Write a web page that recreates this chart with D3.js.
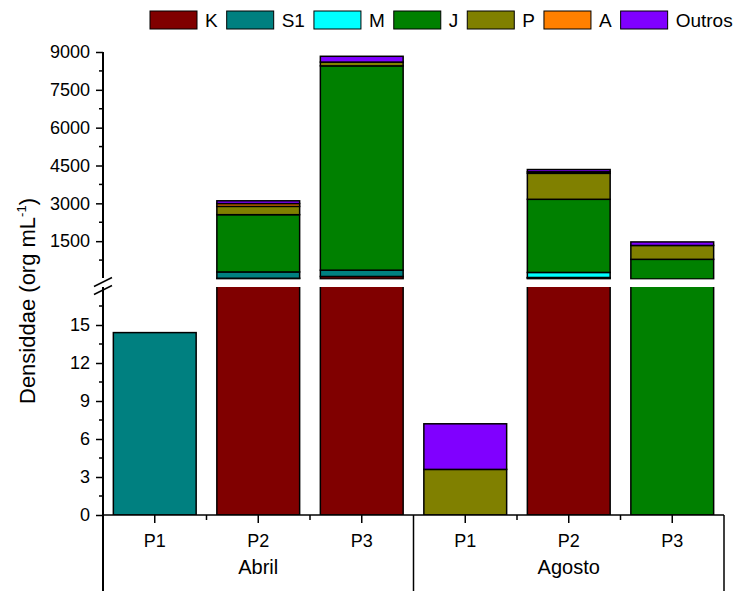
<!DOCTYPE html>
<html><head><meta charset="utf-8">
<script src="https://cdn.jsdelivr.net/npm/d3@7"></script>
<style>body{margin:0;background:#fff}</style>
</head><body><svg id="c" width="734" height="591" font-family="Liberation Sans, Arial, sans-serif"></svg>
<script>
const categories = ["P1","P2","P3","P1","P2","P3"];
const groups = ["Abril","Agosto"];
const seriesNames = ["K","S1","M","J","P","A","Outros"];
const colors = ["#800000","#008080","#00FFFF","#008000","#808000","#FF8000","#8000FF"];
const K      = [0,    30,   100,  0,   40,   0];
const S1     = [14.4, 250,  250,  0,   20,   0];
const M      = [0,    0,    0,    0,   200,  0];
const J      = [0,    2270, 8100, 0,   2900, 780];
const P      = [0,    330,  150,  3.6, 1030, 550];
const A      = [0,    110,  0,    0,   60,   0];
const Outros = [0,    110,  230,  3.6, 90,   140];
const upperTicks = [1500,3000,4500,6000,7500,9000];
const lowerTicks = [0,3,6,9,12,15];
const seriesVals = [K,S1,M,J,P,A,Outros];

const FONT = "Liberation Sans, Arial, sans-serif";
const svg = d3.select("#c");
const x0 = 103, x1 = 724;
const idx = d3.range(categories.length);
const x = d3.scaleBand().domain(idx).range([x0,x1]).paddingInner(0.2).paddingOuter(0.1);
const yU = d3.scaleLinear().domain([0,9000]).range([279,52]);
const yL = d3.scaleLinear().domain([0,18]).range([515,287]);
const breakVal = 18;

const table = idx.map(i => { const o = {i}; seriesNames.forEach((s,k)=> o[s]=seriesVals[k][i]); return o; });
const stacked = d3.stack().keys(seriesNames)(table);

function drawPanel(y, clipId, top, bottom, upper){
  svg.append("clipPath").attr("id",clipId).append("rect")
    .attr("x",x0).attr("y",top).attr("width",x1-x0).attr("height",bottom-top);
  const g = svg.append("g").attr("clip-path",`url(#${clipId})`);
  stacked.forEach((layer,k)=>{
    const segs = layer.filter(d=>d[1]-d[0]>0 && (upper ? d[1]>breakVal : d[0]<breakVal));
    g.selectAll(null).data(segs).enter().append("rect")
      .attr("x",d=>x(d.data.i)).attr("width",x.bandwidth())
      .attr("y",d=>y(d[1])).attr("height",d=>y(d[0])-y(d[1]))
      .attr("fill",colors[k]).attr("stroke","#000").attr("stroke-width",1.5);
  });
}
drawPanel(yU,"cu",40,279.5,true);
drawPanel(yL,"cl",287,515,false);

// Y axes
const fmt = d3.format("d");
const axU = d3.axisLeft(yU).tickValues(upperTicks).tickFormat(fmt).tickSize(7).tickPadding(6);
const gU = svg.append("g").attr("transform",`translate(${x0},0)`).call(axU);
const axL = d3.axisLeft(yL).tickValues(lowerTicks).tickFormat(fmt).tickSize(7).tickPadding(6);
const gL = svg.append("g").attr("transform",`translate(${x0},0)`).call(axL);
[gU,gL].forEach(g=>{
  g.attr("font-family",FONT).attr("font-size",18);
  g.select(".domain").remove();
  g.selectAll("line").attr("stroke","#000").attr("stroke-width",1.5);
  g.selectAll("text").attr("fill","#000");
});
// minor ticks
const minU = d3.range(750,9000,1500), minL = d3.range(1.5,18,3);
svg.selectAll(null).data(minU).enter().append("line")
  .attr("x1",x0-4).attr("x2",x0).attr("y1",d=>yU(d)).attr("y2",d=>yU(d)).attr("stroke","#000").attr("stroke-width",1.5);
svg.selectAll(null).data(minL).enter().append("line")
  .attr("x1",x0-4).attr("x2",x0).attr("y1",d=>yL(d)).attr("y2",d=>yL(d)).attr("stroke","#000").attr("stroke-width",1.5);
// axis lines
svg.append("line").attr("x1",x0).attr("x2",x0).attr("y1",yU(9000)).attr("y2",278).attr("stroke","#000").attr("stroke-width",2);
svg.append("line").attr("x1",x0).attr("x2",x0).attr("y1",287).attr("y2",591).attr("stroke","#000").attr("stroke-width",2);
// break marks
[282,290].forEach(cy=>{
  svg.append("line").attr("x1",x0-9).attr("y1",cy+4.5).attr("x2",x0+9).attr("y2",cy-4.5)
    .attr("stroke","#000").attr("stroke-width",1.5);
});

// X axis
svg.append("line").attr("x1",x0).attr("x2",x1).attr("y1",515).attr("y2",515).attr("stroke","#000").attr("stroke-width",1.5);
svg.selectAll(null).data(idx).enter().append("line")
  .attr("x1",i=>x(i)+x.bandwidth()/2).attr("x2",i=>x(i)+x.bandwidth()/2)
  .attr("y1",515).attr("y2",523).attr("stroke","#000").attr("stroke-width",1.5);
svg.selectAll(null).data(d3.range(1,categories.length)).enter().filter(i=>i!==3).append("line")
  .attr("x1",i=>x(i)-x.step()*x.paddingInner()/2).attr("x2",i=>x(i)-x.step()*x.paddingInner()/2)
  .attr("y1",515).attr("y2",520).attr("stroke","#000").attr("stroke-width",1.5);
svg.selectAll(null).data(idx).enter().append("text")
  .attr("x",i=>x(i)+x.bandwidth()/2).attr("y",547).attr("text-anchor","middle")
  .attr("font-size",18).text(i=>categories[i]);
// group separators
const sepX = [x0, (x(2)+x.bandwidth()+x(3))/2, x1];
sepX.slice(1).forEach(sx=>{
  svg.append("line").attr("x1",sx).attr("x2",sx).attr("y1",515).attr("y2",591).attr("stroke","#000").attr("stroke-width",1.5);
});
groups.forEach((g,k)=>{
  svg.append("text").attr("x",(sepX[k]+sepX[k+1])/2).attr("y",574).attr("text-anchor","middle")
    .attr("font-size",20).text(g);
});

// Y title
const yt = svg.append("text").attr("transform","translate(35,301) rotate(-90)").attr("text-anchor","middle").attr("font-size",22);
yt.append("tspan").text("Densiddae (org mL");
yt.append("tspan").attr("font-size",13).attr("dy",-9).text("-1");
yt.append("tspan").attr("dy",9).text(")");

// Legend (flow layout)
let lx = 150;
seriesNames.forEach((s,k)=>{
  svg.append("rect").attr("x",lx).attr("y",11).attr("width",47).attr("height",18)
    .attr("fill",colors[k]).attr("stroke","#000").attr("stroke-width",1);
  const t = svg.append("text").attr("x",lx+55).attr("y",27).attr("font-size",19).text(s);
  lx = lx + 55 + t.node().getComputedTextLength() + 9;
});
</script></body></html>
